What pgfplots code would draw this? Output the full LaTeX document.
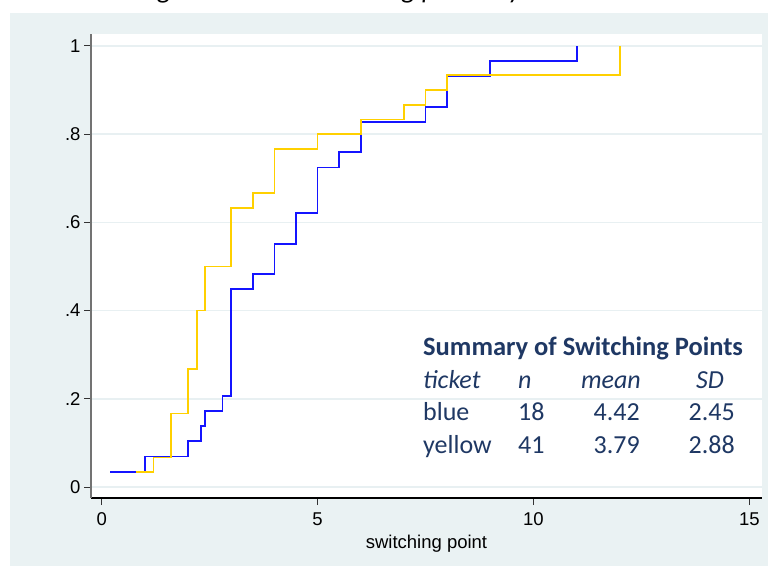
\documentclass[border=0pt]{standalone}
\usepackage{pgfplots}
\pgfplotsset{compat=1.18}
\usepackage{fontspec}
\setmainfont{Liberation Sans}
\newfontfamily\calfont{Carlito}
\definecolor{bgc}{RGB}{234,242,243}
\definecolor{gridc}{RGB}{232,240,242}
\definecolor{lblue}{RGB}{20,20,255}
\definecolor{lyel}{RGB}{255,208,0}
\definecolor{navy}{RGB}{31,56,100}

\pgfplotstableread{
x y
0.2 0.0345
1.0 0.0690
2.0 0.1034
2.3 0.1379
2.4 0.1724
2.8 0.2069
3.0 0.4483
3.5 0.4828
4.0 0.5517
4.5 0.6207
5.0 0.7241
5.5 0.7586
6.0 0.8276
7.5 0.8621
8.0 0.9310
9.0 0.9655
11.0 1.0000
}\blueT

\pgfplotstableread{
x y
0.8 0.0333
1.2 0.0667
1.6 0.1667
2.0 0.2667
2.2 0.4000
2.4 0.5000
3.0 0.6333
3.5 0.6667
4.0 0.7667
5.0 0.8000
6.0 0.8333
7.0 0.8667
7.5 0.9000
8.0 0.9333
12.0 1.0000
}\yelT

\begin{document}
\begin{tikzpicture}[x=1pt,y=1pt]
\fill[bgc] (10,0) rectangle (768,553);
\node[anchor=base west, font=\calfont\itshape\fontsize{27}{30}\selectfont, inner sep=0] at (139,567) {Figure 2. Ticket switching points by colour};
\begin{axis}[
  at={(91pt,68pt)}, anchor=south west, scale only axis,
  width=671pt, height=464pt,
  xmin=-0.248, xmax=15.294, ymin=-0.025, ymax=1.027,
  axis background/.style={fill=white},
  axis x line=bottom, axis y line=left, axis line style={-},
  x axis line style={black, line width=1.2pt},
  y axis line style={black!55, line width=1.2pt},
  xtick={0,5,10,15}, xticklabels={0,5,10,15},
  ytick={0,0.2,0.4,0.6,0.8,1}, yticklabels={0,.2,.4,.6,.8,1},
  tick align=outside, major tick length=7pt,
  tick style={black!80, line width=0.9pt},
  ymajorgrids, grid style={gridc, line width=1.5pt},
  ticklabel style={font=\fontsize{18.5}{20}\selectfont},
  xticklabel style={yshift=-4pt},
  xlabel={switching point}, xlabel style={font=\fontsize{18.5}{20}\selectfont, yshift=-3pt},
]
\addplot[const plot, lblue, line width=1.8pt] table[x=x,y=y] {\blueT};
\addplot[const plot, lyel, line width=1.8pt] table[x=x,y=y] {\yelT};
\end{axis}
\begin{scope}[every node/.style={inner sep=0, text=navy, font=\calfont\fontsize{26}{30}\selectfont}]
\node[anchor=base west, font=\calfont\bfseries\fontsize{26.5}{30}\selectfont] at (423,211) {Summary of Switching Points};
\node[anchor=base west, font=\calfont\itshape\fontsize{26}{30}\selectfont] at (423,178) {ticket};
\node[anchor=base west, font=\calfont\itshape\fontsize{26}{30}\selectfont] at (518,178) {n};
\node[anchor=base east, font=\calfont\itshape\fontsize{26}{30}\selectfont] at (641,178) {mean};
\node[anchor=base east, font=\calfont\itshape\fontsize{26}{30}\selectfont] at (724,178) {SD};
\node[anchor=base west] at (423,145.3) {blue};
\node[anchor=base west] at (518,145.3) {18};
\node[anchor=base east] at (640,145.3) {4.42};
\node[anchor=base east] at (735,145.3) {2.45};
\node[anchor=base west] at (423,112.7) {yellow};
\node[anchor=base west] at (518,112.7) {41};
\node[anchor=base east] at (640,112.7) {3.79};
\node[anchor=base east] at (735,112.7) {2.88};
\end{scope}
\pgfresetboundingbox
\useasboundingbox (0,0) rectangle (768,566);
\end{tikzpicture}
\end{document}
